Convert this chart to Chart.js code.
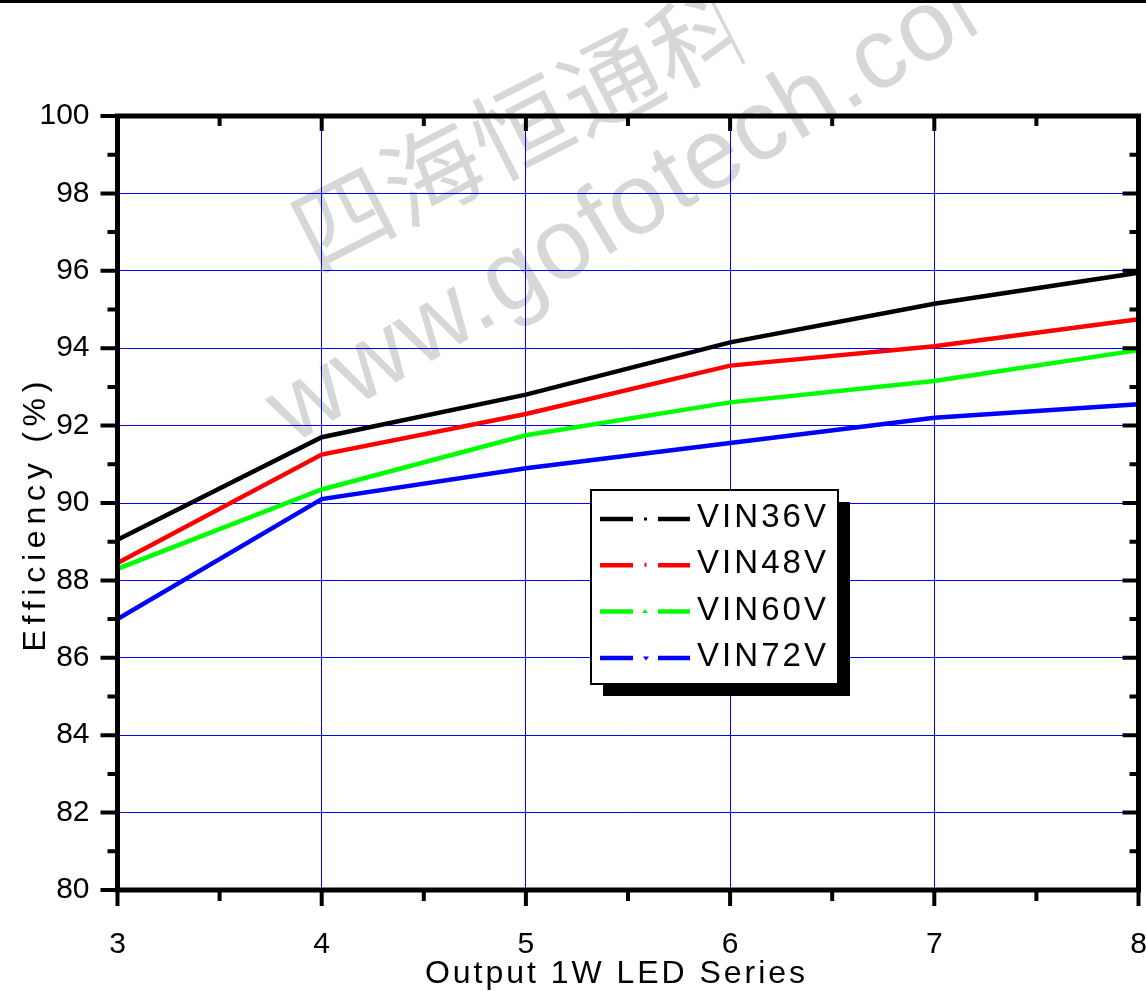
<!DOCTYPE html>
<html><head><meta charset="utf-8">
<script src="https://cdn.jsdelivr.net/npm/chart.js@4/dist/chart.umd.min.js"></script>
<style>html,body{margin:0;padding:0;background:#fff;overflow:hidden}canvas{display:block}</style>
</head><body>
<canvas id="c" width="1146" height="991"></canvas>
<script>
const X_VALUES = [3, 4, 5, 6, 7, 8];
const SERIES_NAMES = ['VIN36V', 'VIN48V', 'VIN60V', 'VIN72V'];
const VIN36V = [89.05, 91.70, 92.80, 94.15, 95.15, 95.95];
const VIN48V = [88.45, 91.25, 92.30, 93.55, 94.05, 94.75];
const VIN60V = [88.30, 90.35, 91.75, 92.60, 93.15, 93.95];
const VIN72V = [87.00, 90.10, 90.90, 91.55, 92.20, 92.55];
const SERIES_COLORS = ['#000000', '#ff0000', '#00ff00', '#0000ff'];
const SERIES_MARKERS = ['square', 'bar', 'triangle', 'triangleDown'];
const X_TICKS = [3, 4, 5, 6, 7, 8];
const Y_TICKS = [80, 82, 84, 86, 88, 90, 92, 94, 96, 98, 100];
const X_TITLE = 'Output 1W LED Series';
const Y_TITLE = 'Efficiency (%)';
const WATERMARK_CN = '四海恒通科技';
const WATERMARK_URL = 'www.gofotech.com';

const SERIES_VALUES = [VIN36V, VIN48V, VIN60V, VIN72V];

function spacedText(ctx, text, x, y, targetWidth, align) {
  ctx.letterSpacing = '0px';
  const w0 = ctx.measureText(text).width;
  const n = Array.from(text).length;
  const ls = n > 1 ? (targetWidth - w0) / (n - 1) : 0;
  ctx.letterSpacing = ls + 'px';
  ctx.textAlign = 'left';
  const sx = align === 'center' ? x - targetWidth / 2 : x;
  ctx.fillText(text, sx, y);
  ctx.letterSpacing = '0px';
}

const decor = {
  id: 'decor',
  beforeDraw(chart) {
    const ctx = chart.ctx;
    ctx.save();
    ctx.fillStyle = '#ffffff';
    ctx.fillRect(0, 0, chart.width, chart.height);
    ctx.fillStyle = '#d7d7d7';
    ctx.textBaseline = 'alphabetic';
    ctx.save();
    ctx.translate(316, 273);
    ctx.rotate(-27 * Math.PI / 180);
    ctx.font = '98px "Noto Sans CJK SC"';
    ctx.letterSpacing = '2px';
    ctx.beginPath();
    ctx.rect(-50, -150, 4 * 100 + 100 + 28, 250);
    ctx.clip();
    ctx.fillText(WATERMARK_CN, 0, 0);
    ctx.restore();
    ctx.save();
    ctx.translate(292, 445);
    ctx.rotate(-31 * Math.PI / 180);
    ctx.font = '100px "Liberation Sans"';
    ctx.letterSpacing = '2px';
    const cut = ctx.measureText(WATERMARK_URL.slice(0, -1)).width + 14;
    ctx.beginPath();
    ctx.rect(-50, -150, cut + 50, 250);
    ctx.clip();
    ctx.fillText(WATERMARK_URL, 0, 0);
    ctx.restore();
    ctx.restore();
  },
  afterDatasetsDraw(chart) {
    const ctx = chart.ctx;
    const a = chart.chartArea;
    const xs = chart.scales.x, ys = chart.scales.y;
    ctx.save();
    ctx.strokeStyle = '#000';
    ctx.lineCap = 'butt';
    ctx.lineWidth = 4;
    ctx.beginPath();
    const xt = xs.ticks.map(t => t.value);
    for (let i = 0; i < xt.length; i++) {
      const px = xs.getPixelForValue(xt[i]);
      ctx.moveTo(px, a.bottom); ctx.lineTo(px, a.bottom + 16);
      ctx.moveTo(px, a.top); ctx.lineTo(px, a.top + 15);
      if (i < xt.length - 1) {
        const m = xs.getPixelForValue((xt[i] + xt[i + 1]) / 2);
        ctx.moveTo(m, a.bottom); ctx.lineTo(m, a.bottom + 11);
        ctx.moveTo(m, a.top); ctx.lineTo(m, a.top + 10);
      }
    }
    const yt = ys.ticks.map(t => t.value);
    for (let i = 0; i < yt.length; i++) {
      const py = ys.getPixelForValue(yt[i]);
      ctx.moveTo(a.left - 17, py); ctx.lineTo(a.left, py);
      ctx.moveTo(a.right, py); ctx.lineTo(a.right - 16, py);
      if (i < yt.length - 1) {
        const m = ys.getPixelForValue((yt[i] + yt[i + 1]) / 2);
        ctx.moveTo(a.left - 10, m); ctx.lineTo(a.left, m);
        ctx.moveTo(a.right, m); ctx.lineTo(a.right - 9, m);
      }
    }
    ctx.stroke();
    ctx.lineWidth = 5;
    ctx.strokeRect(a.left, a.top, a.right - a.left, a.bottom - a.top);
    ctx.restore();
  },
  afterDraw(chart) {
    const ctx = chart.ctx;
    ctx.save();
    ctx.fillStyle = '#000';
    ctx.fillRect(0, 0, chart.width, 3);
    ctx.fillStyle = '#000';
    ctx.textBaseline = 'alphabetic';
    ctx.font = '32px "Liberation Sans"';
    spacedText(ctx, X_TITLE, 615, 983, 380, 'center');
    ctx.save();
    ctx.translate(45, 516.5);
    ctx.rotate(-Math.PI / 2);
    spacedText(ctx, Y_TITLE, 0, 0, 270, 'center');
    ctx.restore();
    const bx = 591, by = 490, bw = 247, bh = 194;
    ctx.fillStyle = '#000';
    ctx.fillRect(bx + 12, by + 12, bw, bh);
    ctx.fillStyle = '#fff';
    ctx.fillRect(bx, by, bw, bh);
    ctx.strokeStyle = '#000';
    ctx.lineWidth = 2;
    ctx.strokeRect(bx, by, bw, bh);
    chart.data.datasets.forEach((ds, i) => {
      const ly = 519 + i * 46.3;
      ctx.strokeStyle = ds.borderColor;
      ctx.fillStyle = ds.borderColor;
      ctx.lineWidth = 4.5;
      ctx.beginPath();
      ctx.moveTo(600, ly); ctx.lineTo(633, ly);
      ctx.moveTo(658, ly); ctx.lineTo(690, ly);
      ctx.stroke();
      const mk = SERIES_MARKERS[i];
      ctx.beginPath();
      if (mk === 'square') ctx.rect(644, ly - 1.5, 3, 3);
      else if (mk === 'bar') ctx.rect(644.5, ly - 2.5, 2, 4);
      else if (mk === 'triangle') { ctx.moveTo(642, ly + 1.5); ctx.lineTo(648, ly + 1.5); ctx.lineTo(645, ly - 2.5); }
      else { ctx.moveTo(643, ly - 1.5); ctx.lineTo(649, ly - 1.5); ctx.lineTo(646, ly + 2.5); }
      ctx.fill();
      ctx.fillStyle = '#000';
      ctx.font = '33px "Liberation Sans"';
      spacedText(ctx, ds.label, 697, ly + 8, 129, 'left');
    });
    ctx.restore();
  }
};

const datasets = SERIES_NAMES.map((name, i) => ({
  label: name,
  data: X_VALUES.map((x, j) => ({ x: x, y: SERIES_VALUES[i][j] })),
  borderColor: SERIES_COLORS[i],
  backgroundColor: SERIES_COLORS[i],
  borderWidth: 4.5,
  pointRadius: 0,
  tension: 0,
  fill: false
}));

new Chart(document.getElementById('c'), {
  type: 'line',
  data: { datasets },
  options: {
    responsive: false,
    animation: false,
    devicePixelRatio: 1,
    layout: { padding: { top: 116, right: 7.5, left: 0, bottom: 0 } },
    plugins: { legend: { display: false }, tooltip: { enabled: false } },
    scales: {
      x: {
        type: 'linear', min: 3, max: 8,
        afterBuildTicks: s => { s.ticks = X_TICKS.map(v => ({ value: v })); },
        afterFit: s => { s.height = 101; s.paddingLeft = 0; s.paddingRight = 0; },
        grid: { color: '#0000ff', lineWidth: 1, drawTicks: false },
        border: { display: false },
        ticks: { color: '#000', font: { family: 'Liberation Sans', size: 30 }, padding: 37, maxRotation: 0, autoSkip: false }
      },
      y: {
        type: 'linear', min: 80, max: 100,
        afterBuildTicks: s => { s.ticks = Y_TICKS.map(v => ({ value: v })); },
        afterFit: s => { s.width = 117.5; s.paddingTop = 0; s.paddingBottom = 0; },
        grid: { color: '#0000ff', lineWidth: 1, drawTicks: false },
        border: { display: false },
        ticks: { color: '#000', font: { family: 'Liberation Sans', size: 30 }, padding: 28 }
      }
    }
  },
  plugins: [decor]
});
</script>
</body></html>
